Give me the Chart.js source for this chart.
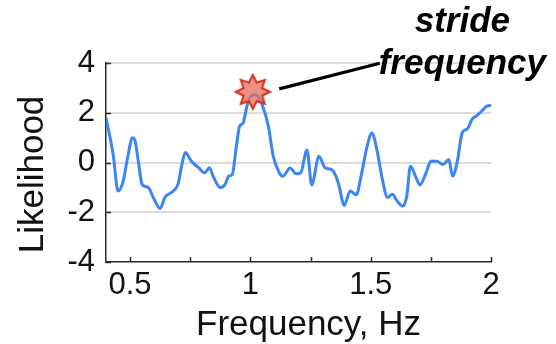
<!DOCTYPE html>
<html>
<head>
<meta charset="utf-8">
<script src="https://cdn.jsdelivr.net/npm/chart.js@4.4.1/dist/chart.umd.min.js"></script>
<style>
  html, body { margin: 0; padding: 0; background: #ffffff; }
  #wrap { width: 556px; height: 344px; position: relative; }
</style>
</head>
<body>
<div id="wrap"><canvas id="c" width="556" height="344"></canvas></div>
<script>
// Gait spectrum: likelihood of each candidate frequency
const freq = [0.40,0.43,0.45,0.47,0.49,0.51,0.52,0.535,0.55,0.575,0.60,0.625,0.645,0.68,0.70,0.715,0.73,0.755,0.785,0.81,0.83,0.845,0.875,0.895,0.91,0.925,0.94,0.955,0.97,0.985,1.0,1.02,1.035,1.05,1.075,1.095,1.12,1.135,1.165,1.19,1.21,1.235,1.255,1.285,1.31,1.34,1.365,1.39,1.415,1.44,1.46,1.485,1.505,1.525,1.55,1.57,1.59,1.61,1.635,1.65,1.665,1.69,1.705,1.73,1.75,1.775,1.80,1.825,1.84,1.86,1.88,1.895,1.905,1.92,1.94,1.96,1.98,2.0];
const likelihood = [1.80,0.3,-1.15,-0.8,0.2,1.0,0.9,0.0,-0.88,-1.0,-1.48,-1.85,-1.4,-1.15,-0.85,-0.1,0.4,0.05,-0.21,-0.41,-0.21,-0.55,-1.01,-0.88,-0.55,-0.48,0.52,1.45,1.59,2.25,2.65,2.72,2.6,2.3,1.45,0.25,-0.41,-0.55,-0.22,-0.45,-0.4,0.5,-0.9,0.25,-0.21,-0.3,-0.8,-1.72,-1.15,-1.3,-0.55,0.65,1.19,0.55,-0.75,-1.4,-1.28,-1.55,-1.75,-1.35,-0.15,-0.65,-0.9,-0.42,0.05,0.05,-0.08,0.12,-0.55,0.05,1.19,1.32,1.39,1.72,1.88,2.05,2.25,2.3];

// Detected stride frequency (peak marker)
const strideFreq = [1.01];
const strideLikelihood = [2.84];

// Callout line from the marker towards the label
const calloutX = [1.12, 1.5375];
const calloutY = [2.96, 3.99];
const calloutLabel = ['stride', 'frequency'];

// Axis ticks and titles
const xTicks = [0.5, 0.75, 1, 1.25, 1.5, 1.75, 2];
const xLabelTicks = [0.5, 1, 1.5, 2];
const yTicks = [-4, -2, 0, 2, 4];
const xTitle = 'Frequency, Hz';
const yTitle = 'Likelihood';

const FONT = "'Liberation Sans', Arial, Helvetica, sans-serif";
const AXIS_COLOR = '#2b2b2b';
const TEXT_COLOR = '#111111';

// Filled multi-point star used as the marker image
function makeStar(points, outer, inner) {
  const size = Math.ceil(outer * 2 + 4);
  const cv = document.createElement('canvas');
  cv.width = size; cv.height = size;
  const g = cv.getContext('2d');
  const c = size / 2;
  g.beginPath();
  for (let i = 0; i < points * 2; i++) {
    const r = i % 2 === 0 ? outer : inner;
    const a = -Math.PI / 2 + i * Math.PI / points;
    const px = c + r * Math.cos(a), py = c + r * Math.sin(a);
    if (i === 0) g.moveTo(px, py); else g.lineTo(px, py);
  }
  g.closePath();
  g.fillStyle = 'rgba(232, 110, 95, 0.75)';
  g.fill();
  g.lineWidth = 2;
  g.strokeStyle = '#d7301f';
  g.stroke();
  return cv;
}
const starImg = makeStar(8, 17, 10);

// Inward tick marks on both axes
const innerTicks = {
  id: 'innerTicks',
  afterDatasetsDraw(chart) {
    const { ctx, chartArea: a, scales: { x, y } } = chart;
    ctx.save();
    ctx.strokeStyle = AXIS_COLOR;
    ctx.lineWidth = 1.5;
    ctx.beginPath();
    xTicks.forEach(v => {
      const px = Math.round(x.getPixelForValue(v)) + 0.5;
      ctx.moveTo(px, a.bottom);
      ctx.lineTo(px, a.bottom - 5);
    });
    yTicks.forEach(v => {
      const py = Math.round(y.getPixelForValue(v)) + 0.5;
      ctx.moveTo(a.left, py);
      ctx.lineTo(a.left + 5, py);
    });
    ctx.stroke();
    ctx.restore();
  }
};

// Axis titles, placed relative to the plot area
const axisTitles = {
  id: 'axisTitles',
  afterDraw(chart) {
    const { ctx, chartArea: a } = chart;
    ctx.save();
    ctx.fillStyle = TEXT_COLOR;
    ctx.font = "35px " + FONT;
    ctx.textAlign = 'center';
    ctx.textBaseline = 'alphabetic';
    ctx.fillText(xTitle, (a.left + a.right) / 2 + 10, a.bottom + 73);
    ctx.translate(a.left - 63, (a.top + a.bottom) / 2 + 12);
    ctx.rotate(-Math.PI / 2);
    ctx.fillText(yTitle, 0, 0);
    ctx.restore();
  }
};

// Bold italic callout text next to the end of the callout line
const calloutText = {
  id: 'calloutText',
  afterDraw(chart) {
    const { ctx, scales: { x, y } } = chart;
    const ex = x.getPixelForValue(calloutX[1]);
    const ey = y.getPixelForValue(calloutY[1]);
    ctx.save();
    ctx.fillStyle = '#000000';
    ctx.font = "italic bold 35px " + FONT;
    ctx.textAlign = 'left';
    ctx.textBaseline = 'alphabetic';
    const wFreq = ctx.measureText(calloutLabel[1]).width;
    const left = ex - 1;
    const center = left + wFreq / 2;
    ctx.fillText(calloutLabel[1], left, ey + 11);
    ctx.textAlign = 'center';
    ctx.fillText(calloutLabel[0], center, ey - 31);
    ctx.restore();
  }
};

new Chart(document.getElementById('c'), {
  type: 'line',
  data: {
    datasets: [
      {
        label: 'stride frequency',
        data: strideFreq.map((f, i) => ({ x: f, y: strideLikelihood[i] })),
        showLine: false,
        pointStyle: starImg,
        pointRadius: 17,
        clip: false,
        order: 0
      },
      {
        label: 'callout',
        data: calloutX.map((f, i) => ({ x: f, y: calloutY[i] })),
        borderColor: '#000000',
        borderWidth: 3.2,
        pointRadius: 0,
        tension: 0,
        clip: false,
        order: 1
      },
      {
        label: 'Likelihood',
        data: freq.map((f, i) => ({ x: f, y: likelihood[i] })),
        borderColor: '#3a86f5',
        borderWidth: 3,
        pointRadius: 0,
        cubicInterpolationMode: 'monotone',
        fill: false,
        order: 2
      }
    ]
  },
  options: {
    responsive: false,
    animation: false,
    events: [],
    layout: { padding: { left: 0, top: 63, right: 65, bottom: 0 } },
    plugins: {
      legend: { display: false },
      tooltip: { enabled: false },
      title: { display: false }
    },
    scales: {
      x: {
        type: 'linear',
        min: 0.4,
        max: 2,
        afterBuildTicks(scale) { scale.ticks = xTicks.map(v => ({ value: v })); },
        afterFit(scale) { scale.height = 82; },
        ticks: {
          autoSkip: false,
          maxRotation: 0,
          padding: 5,
          color: TEXT_COLOR,
          font: { family: FONT, size: 31 },
          callback: v => xLabelTicks.includes(v) ? String(v) : ''
        },
        grid: { display: false, drawTicks: false },
        border: { display: true, color: AXIS_COLOR, width: 1.5 },
        title: { display: false }
      },
      y: {
        min: -4,
        max: 4,
        afterBuildTicks(scale) { scale.ticks = yTicks.map(v => ({ value: v })); },
        afterFit(scale) { scale.width = 106; },
        ticks: {
          padding: 11,
          color: TEXT_COLOR,
          font: { family: FONT, size: 31 }
        },
        grid: {
          drawTicks: false,
          lineWidth: 2,
          color: ctx => (ctx.tick && ctx.tick.value === -4) ? 'rgba(0,0,0,0)' : '#dcdcdc'
        },
        border: { display: true, color: AXIS_COLOR, width: 1.5 },
        title: { display: false }
      }
    }
  },
  plugins: [innerTicks, axisTitles, calloutText]
});
</script>
</body>
</html>
